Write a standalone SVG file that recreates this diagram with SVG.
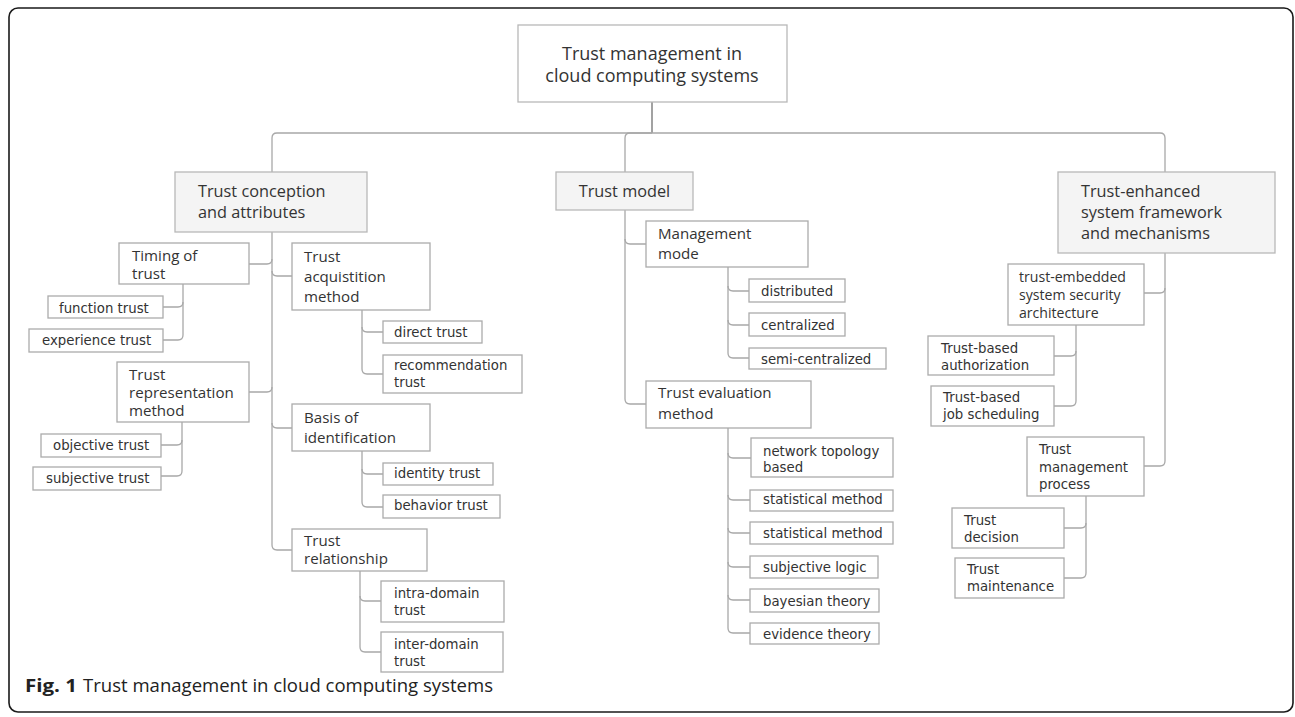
<svg xmlns="http://www.w3.org/2000/svg" width="1295" height="717" viewBox="0 0 1295 717">
<style>
.frame{fill:#fff;stroke:#1a1a1a;stroke-width:1.6}
.root rect{fill:#fff;stroke:#b8b8b8;stroke-width:1.3}
.l1 rect{fill:#f4f4f4;stroke:#b8b8b8;stroke-width:1.3}
.l2 rect,.leaf rect{fill:#fff;stroke:#ababab;stroke-width:1.3}
text{fill:#333}
.root text{font-family:"Open Sans","Noto Sans",sans-serif;font-size:18px;text-anchor:middle}
.l1 text{font-family:"Open Sans","Noto Sans",sans-serif;font-size:16.3px}
.l2 text{font-family:"Open Sans","Noto Sans",sans-serif;font-size:15.1px}
.l2s text{font-family:"Open Sans","Noto Sans",sans-serif;font-size:14.1px}
.leaf text{font-family:"DejaVu Sans","Verdana",sans-serif;font-size:13.3px}
.conn path{fill:none;stroke:#a8a8a8;stroke-width:1.3}
.conn path.dark{stroke:#707070}
.cap{font-family:"Open Sans","Noto Sans",sans-serif;font-size:18px;fill:#222}
</style>
<rect class="frame" x="9" y="8" width="1284" height="704" rx="9"/>

<g id="connectors" class="conn">
  <path class="dark" d="M652 102V133"/>
  <path d="M272 172V138Q272 133 277 133H1160Q1165 133 1165 138V172"/>
  <path d="M652 133H630Q625 133 625 138V172"/>
  <path d="M272 232V545Q272 550 277 550H292"/>
  <path d="M249 264H267Q272 264 272 259"/>
  <path d="M272 271Q272 276 277 276H292"/>
  <path d="M249 392H267Q272 392 272 387"/>
  <path d="M272 423Q272 428 277 428H292"/>
  <path d="M183 284V335Q183 340 178 340H163"/>
  <path d="M163 307H178Q183 307 183 302"/>
  <path d="M182 422V471Q182 476 177 476H161"/>
  <path d="M161 445H177Q182 445 182 440"/>
  <path d="M362 310V369Q362 374 367 374H383"/>
  <path d="M362 327Q362 332 367 332H383"/>
  <path d="M362 451V502Q362 507 367 507H383"/>
  <path d="M362 469Q362 474 367 474H383"/>
  <path d="M360 571V647Q360 652 365 652H381"/>
  <path d="M360 596Q360 601 365 601H381"/>
  <path d="M625 210V399Q625 404 630 404H646"/>
  <path d="M625 239Q625 244 630 244H646"/>
  <path d="M728 267V353Q728 358 733 358H749"/>
  <path d="M728 286Q728 291 733 291H749"/>
  <path d="M728 320Q728 325 733 325H749"/>
  <path d="M728 428V628Q728 633 733 633H750"/>
  <path d="M728 453Q728 458 733 458H751"/>
  <path d="M728 495Q728 500 733 500H750"/>
  <path d="M728 528Q728 533 733 533H750"/>
  <path d="M728 562Q728 567 733 567H750"/>
  <path d="M728 595Q728 600 733 600H750"/>
  <path d="M1165 253V461Q1165 466 1160 466H1144"/>
  <path d="M1144 293H1160Q1165 293 1165 288"/>
  <path d="M1076 325V401Q1076 406 1071 406H1054"/>
  <path d="M1054 356H1071Q1076 356 1076 351"/>
  <path d="M1086 496V573Q1086 578 1081 578H1064"/>
  <path d="M1064 528H1081Q1086 528 1086 523"/>
</g>

<g id="root" class="root">
  <rect x="518" y="25" width="269" height="77"/>
  <text x="652" y="60">Trust management in</text>
  <text x="652" y="82">cloud computing systems</text>
</g>

<g id="n-conception" class="l1">
  <rect x="175" y="172" width="192" height="60"/>
  <text x="198" y="197">Trust conception</text>
  <text x="198" y="218">and attributes</text>
</g>
<g id="n-model" class="l1">
  <rect x="556" y="172" width="137" height="38"/>
  <text x="624.5" y="197" text-anchor="middle">Trust model</text>
</g>
<g id="n-enhanced" class="l1">
  <rect x="1058" y="172" width="217" height="81"/>
  <text x="1081" y="197">Trust-enhanced</text>
  <text x="1081" y="218">system framework</text>
  <text x="1081" y="239">and mechanisms</text>
</g>

<g id="n-timing" class="l2">
  <rect x="119" y="243" width="130" height="41"/>
  <text x="132" y="261">Timing of</text>
  <text x="132" y="279">trust</text>
</g>
<g id="n-function" class="leaf">
  <rect x="48" y="296" width="115" height="22"/>
  <text x="59" y="313">function trust</text>
</g>
<g id="n-experience" class="leaf">
  <rect x="29" y="329" width="134" height="23"/>
  <text x="42" y="345">experience trust</text>
</g>
<g id="n-representation" class="l2">
  <rect x="117" y="362" width="132" height="60"/>
  <text x="129" y="380">Trust</text>
  <text x="129" y="398">representation</text>
  <text x="129" y="416">method</text>
</g>
<g id="n-objective" class="leaf">
  <rect x="41" y="434" width="120" height="23"/>
  <text x="53" y="450">objective trust</text>
</g>
<g id="n-subjective" class="leaf">
  <rect x="33" y="467" width="128" height="23"/>
  <text x="46" y="483">subjective trust</text>
</g>
<g id="n-acquisition" class="l2">
  <rect x="292" y="243" width="138" height="67"/>
  <text x="304" y="262">Trust</text>
  <text x="304" y="282">acquistition</text>
  <text x="304" y="302">method</text>
</g>
<g id="n-direct" class="leaf">
  <rect x="383" y="321" width="99" height="22"/>
  <text x="394" y="337">direct trust</text>
</g>
<g id="n-recommendation" class="leaf">
  <rect x="383" y="355" width="139" height="38"/>
  <text x="394" y="370">recommendation</text>
  <text x="394" y="387">trust</text>
</g>
<g id="n-basis" class="l2">
  <rect x="292" y="404" width="138" height="47"/>
  <text x="304" y="423">Basis of</text>
  <text x="304" y="443">identification</text>
</g>
<g id="n-identity" class="leaf">
  <rect x="383" y="463" width="110" height="22"/>
  <text x="394" y="478">identity trust</text>
</g>
<g id="n-behavior" class="leaf">
  <rect x="383" y="495" width="117" height="23"/>
  <text x="394" y="510">behavior trust</text>
</g>
<g id="n-relationship" class="l2">
  <rect x="292" y="529" width="135" height="42"/>
  <text x="304" y="546">Trust</text>
  <text x="304" y="564">relationship</text>
</g>
<g id="n-intra" class="leaf">
  <rect x="381" y="581" width="123" height="41"/>
  <text x="394" y="598">intra-domain</text>
  <text x="394" y="615">trust</text>
</g>
<g id="n-inter" class="leaf">
  <rect x="381" y="632" width="122" height="40"/>
  <text x="394" y="649">inter-domain</text>
  <text x="394" y="666">trust</text>
</g>

<g id="n-management" class="l2">
  <rect x="646" y="221" width="162" height="46"/>
  <text x="658" y="239">Management</text>
  <text x="658" y="259">mode</text>
</g>
<g id="n-distributed" class="leaf">
  <rect x="749" y="279" width="96" height="23"/>
  <text x="761" y="296">distributed</text>
</g>
<g id="n-centralized" class="leaf">
  <rect x="749" y="313" width="96" height="23"/>
  <text x="761" y="330">centralized</text>
</g>
<g id="n-semi" class="leaf">
  <rect x="749" y="348" width="137" height="21"/>
  <text x="761" y="364">semi-centralized</text>
</g>
<g id="n-evaluation" class="l2">
  <rect x="646" y="381" width="165" height="47"/>
  <text x="658" y="398">Trust evaluation</text>
  <text x="658" y="419">method</text>
</g>
<g id="n-network" class="leaf">
  <rect x="751" y="438" width="142" height="39"/>
  <text x="763" y="456">network topology</text>
  <text x="763" y="472">based</text>
</g>
<g id="n-stat1" class="leaf">
  <rect x="750" y="490" width="143" height="21"/>
  <text x="763" y="504">statistical method</text>
</g>
<g id="n-stat2" class="leaf">
  <rect x="750" y="522" width="143" height="22"/>
  <text x="763" y="538">statistical method</text>
</g>
<g id="n-subjlogic" class="leaf">
  <rect x="750" y="556" width="128" height="22"/>
  <text x="763" y="572">subjective logic</text>
</g>
<g id="n-bayesian" class="leaf">
  <rect x="750" y="589" width="129" height="23"/>
  <text x="763" y="606">bayesian theory</text>
</g>
<g id="n-evidence" class="leaf">
  <rect x="750" y="623" width="129" height="21"/>
  <text x="763" y="639">evidence theory</text>
</g>

<g id="n-embedded" class="l2 l2s">
  <rect x="1008" y="264" width="136" height="61"/>
  <text x="1019" y="282">trust-embedded</text>
  <text x="1019" y="300">system security</text>
  <text x="1019" y="318">architecture</text>
</g>
<g id="n-authorization" class="leaf">
  <rect x="928" y="336" width="126" height="39"/>
  <text x="941" y="353">Trust-based</text>
  <text x="941" y="370">authorization</text>
</g>
<g id="n-scheduling" class="leaf">
  <rect x="931" y="386" width="123" height="40"/>
  <text x="943" y="402">Trust-based</text>
  <text x="943" y="419">job scheduling</text>
</g>
<g id="n-process" class="leaf">
  <rect x="1027" y="437" width="117" height="59"/>
  <text x="1039" y="454">Trust</text>
  <text x="1039" y="472">management</text>
  <text x="1039" y="489">process</text>
</g>
<g id="n-decision" class="leaf">
  <rect x="952" y="508" width="112" height="40"/>
  <text x="964" y="525">Trust</text>
  <text x="964" y="542">decision</text>
</g>
<g id="n-maintenance" class="leaf">
  <rect x="955" y="558" width="109" height="40"/>
  <text x="967" y="574">Trust</text>
  <text x="967" y="591">maintenance</text>
</g>

<g id="caption">
  <text class="cap" x="25" y="692" font-weight="bold" textLength="52" lengthAdjust="spacingAndGlyphs">Fig. 1</text>
  <text class="cap" x="83" y="692" textLength="410" lengthAdjust="spacingAndGlyphs">Trust management in cloud computing systems</text>
</g>
</svg>
